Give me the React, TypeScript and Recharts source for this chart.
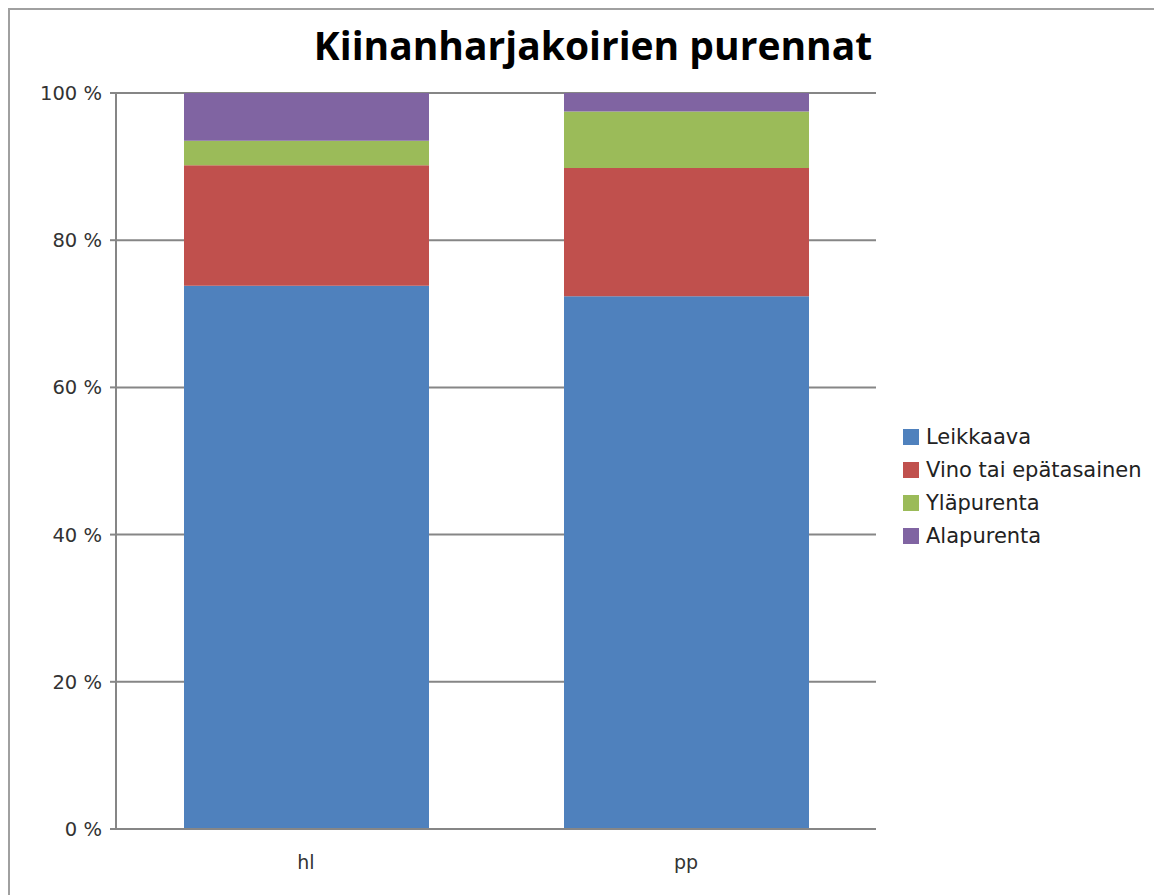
import { BarChart, Bar, XAxis, YAxis, CartesianGrid, Legend } from "recharts";

const CATEGORIES = ["hl", "pp"];
const LEIKKAAVA = [73.8, 72.4];
const VINO = [16.4, 17.4];
const YLAPURENTA = [3.3, 7.7];
const ALAPURENTA = [6.5, 2.5];
const Y_TICKS = [0, 20, 40, 60, 80, 100];

const SERIES = [
  { key: "leikkaava", name: "Leikkaava", color: "#4f81bd" },
  { key: "vino", name: "Vino tai epätasainen", color: "#c0504d" },
  { key: "yla", name: "Yläpurenta", color: "#9bbb59" },
  { key: "ala", name: "Alapurenta", color: "#8064a2" },
];

const data = CATEGORIES.map((c, i) => ({
  name: c,
  leikkaava: LEIKKAAVA[i],
  vino: VINO[i],
  yla: YLAPURENTA[i],
  ala: ALAPURENTA[i],
}));

const FONT = "'DejaVu Sans', sans-serif";
const GRID = "#868686";

function LegendList() {
  return (
    <div style={{ fontFamily: FONT, fontSize: 21, color: "#222" }}>
      {SERIES.map((s) => (
        <div key={s.key} style={{ display: "flex", alignItems: "center", height: 33 }}>
          <span style={{ width: 16, height: 16, background: s.color, marginRight: 7, display: "inline-block" }} />
          <span>{s.name}</span>
        </div>
      ))}
    </div>
  );
}

export default function App() {
  return (
    <div
      style={{
        position: "relative",
        width: 1154,
        height: 887,
        borderLeft: "2px solid #a0a0a0",
        borderTop: "2px solid #a0a0a0",
        boxSizing: "border-box",
        background: "#fff",
      }}
    >
      <div
        style={{
          position: "absolute",
          left: 583,
          top: 8,
          transform: "translateX(-50%)",
          fontFamily: "'Open Sans', sans-serif",
          fontWeight: 700,
          fontSize: 39,
          whiteSpace: "nowrap",
          color: "#000",
        }}
      >
        Kiinanharjakoirien purennat
      </div>
      <BarChart
        width={1152}
        height={885}
        data={data}
        margin={{ top: 83, right: 286, bottom: 26, left: 46 }}
        barSize={245}
      >
        <CartesianGrid vertical={false} stroke={GRID} strokeWidth={2} strokeDasharray="" />
        <XAxis
          dataKey="name"
          height={40}
          axisLine={{ stroke: GRID, strokeWidth: 2 }}
          tickLine={false}
          tickSize={0}
          tickMargin={27}
          tick={{ fontFamily: FONT, fontSize: 19, fill: "#333" }}
        />
        <YAxis
          width={60}
          domain={[0, 100]}
          ticks={Y_TICKS}
          interval={0}
          tickFormatter={(v) => `${v} %`}
          axisLine={{ stroke: GRID, strokeWidth: 2 }}
          tickLine={{ stroke: GRID, strokeWidth: 2 }}
          tickSize={6}
          tickMargin={8}
          tick={{ fontFamily: FONT, fontSize: 19.5, fill: "#333" }}
        />
        <YAxis
          yAxisId="right"
          orientation="right"
          width={0}
          tick={false}
          tickLine={false}
          axisLine={{ stroke: "#d0d0d0", strokeWidth: 1 }}
        />
        <Legend
          layout="horizontal"
          align="center"
          verticalAlign="middle"
          content={() => <LegendList />}
          wrapperStyle={{ left: 893, top: 410, width: 260 }}
        />
        {SERIES.map((s) => (
          <Bar key={s.key} dataKey={s.key} name={s.name} stackId="a" fill={s.color} isAnimationActive={false} />
        ))}
      </BarChart>
    </div>
  );
}
